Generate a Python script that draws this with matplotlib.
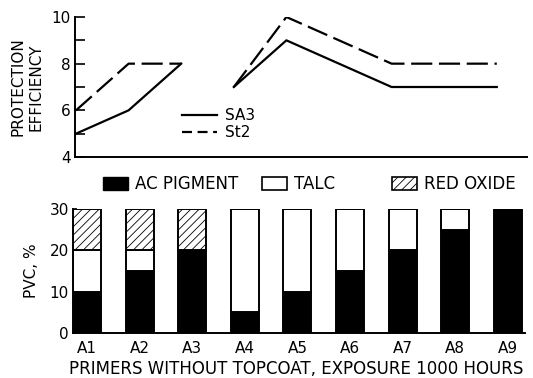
import matplotlib
matplotlib.use("Agg")
import matplotlib.pyplot as plt
import numpy as np
from matplotlib.patches import Patch
from matplotlib.lines import Line2D

primers = ["A1", "A2", "A3", "A4", "A5", "A6", "A7", "A8", "A9"]
ac_pigment = [10, 15, 20, 5, 10, 15, 20, 25, 30]
talc = [10, 5, 0, 25, 20, 15, 10, 5, 0]
red_oxide = [10, 10, 10, 0, 0, 0, 0, 0, 0]

# protection efficiency (two segments: A1-A3 and A4-A9)
pe_x1 = [1, 2, 3]
sa3_1 = [5, 6, 8]
st2_1 = [6, 8, 8]
pe_x2 = [4, 5, 7, 9]
sa3_2 = [7, 9, 7, 7]
st2_2 = [7, 10, 8, 8]

plt.rcParams['font.family'] = ['DejaVu Sans']
plt.rcParams['hatch.linewidth'] = 0.6

W, H = 533, 378
fig = plt.figure(figsize=(W / 100, H / 100), dpi=100)

# top panel
ax1 = fig.add_axes([75 / W, 1 - 157 / H, (527 - 75) / W, (157 - 17) / H])
lw = 1.6
dash = (9.5, 3)
ax1.plot(pe_x1, sa3_1, color='black', lw=lw)
ax1.plot(pe_x1, st2_1, color='black', lw=lw, dashes=dash)
ax1.plot(pe_x2, sa3_2, color='black', lw=lw)
ax1.plot(pe_x2, st2_2, color='black', lw=lw, dashes=dash)
ax1.set_xlim(1 - 1 / 52.6, 1 + (527 - 76) / 52.6)
ax1.set_ylim(4, 10)
ax1.set_yticks([4, 5, 6, 7, 8, 9, 10])
ax1.set_yticklabels(['4', '', '6', '', '8', '', '10'])
ax1.tick_params(axis='y', direction='in', length=7, width=1.2, labelsize=11, pad=3)
ax1.set_xticks([])
for s in ['top', 'right']:
    ax1.spines[s].set_visible(False)
for s in ['left', 'bottom']:
    ax1.spines[s].set_linewidth(1.4)
ax1.set_ylabel("PROTECTION\nEFFICIENCY", fontsize=11, linespacing=1.2)
ax1.yaxis.set_label_coords(-0.07, 0.5)
h_sa3 = Line2D([], [], color='black', lw=lw)
h_st2 = Line2D([], [], color='black', lw=lw, dashes=(4.5, 2.5))
ax1.legend([h_sa3, h_st2], ["SA3", "St2"], loc='center left',
           bbox_to_anchor=((182 - 75) / 452, (157 - 124) / 140), frameon=False,
           fontsize=11, handlelength=2.3, handletextpad=0.5, labelspacing=0.15,
           borderaxespad=0, borderpad=0)

# bottom panel
ax2 = fig.add_axes([73 / W, 1 - 333 / H, (525 - 73) / W, (333 - 209) / H])
x = np.arange(1, len(primers) + 1)
bw = 0.53
ac = np.array(ac_pigment)
tc = np.array(talc)
ro = np.array(red_oxide)
ax2.bar(x, ac, bw, color='black', edgecolor='black', lw=1.4)
ax2.bar(x, tc, bw, bottom=ac, color='white', edgecolor='black', lw=1.4)
ax2.bar(x, ro, bw, bottom=ac + tc, color='white', edgecolor='black', lw=1.4,
        hatch='////')
ax2.set_xlim(1 - 14 / 52.6, 1 + (525 - 87) / 52.6)
ax2.set_ylim(0, 30)
ax2.set_yticks([0, 10, 20, 30])
ax2.tick_params(axis='y', direction='in', length=3, width=1.2, labelsize=11, pad=3)
ax2.set_xticks(x)
ax2.set_xticklabels(primers)
ax2.tick_params(axis='x', length=0, labelsize=11, pad=6)
for s in ['top', 'right']:
    ax2.spines[s].set_visible(False)
for s in ['left', 'bottom']:
    ax2.spines[s].set_linewidth(1.4)
ax2.set_ylabel("PVC, %", fontsize=11)
ax2.yaxis.set_label_coords(-0.075, 0.5)
ax2.set_xlabel("PRIMERS WITHOUT TOPCOAT, EXPOSURE 1000 HOURS", fontsize=12)
ax2.xaxis.set_label_coords(0.494, -0.22)

legend_items = [
    (Patch(facecolor='black', edgecolor='black'), "AC PIGMENT", 103),
    (Patch(facecolor='white', edgecolor='black', lw=1.2), "TALC", 262),
    (Patch(facecolor='white', edgecolor='black', lw=1.2, hatch='////'), "RED OXIDE", 392),
]
for handle, label, px in legend_items:
    fig.legend([handle], [label], loc='center left',
               bbox_to_anchor=(px / W, 1 - 184 / H), frameon=False,
               fontsize=12, handlelength=1.5, handleheight=0.85, handletextpad=0.4,
               borderpad=0, borderaxespad=0)

fig.savefig("out.png", dpi=100)
